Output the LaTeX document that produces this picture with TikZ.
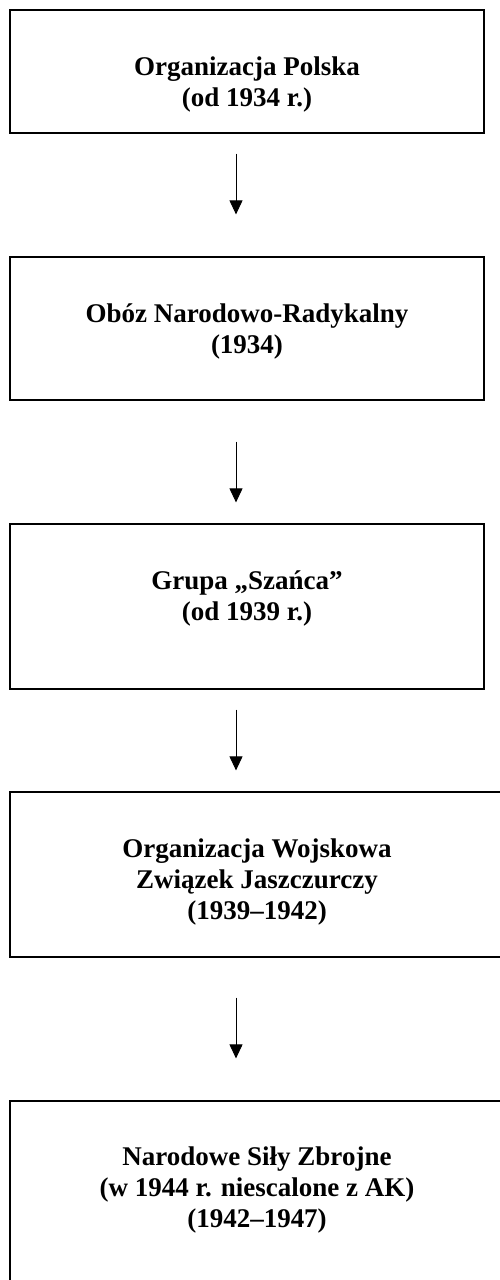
\documentclass[tikz,border=0pt]{standalone}
\usepackage{fontspec}
\setmainfont{Liberation Serif}
\usetikzlibrary{arrows.meta}

\begin{document}
\begin{tikzpicture}[x=1pt,y=1pt,
  box/.style={draw=black, line width=1.2pt, rectangle, inner sep=0pt, minimum width=474pt},
  wide/.style={box, minimum width=494pt},
  lbl/.style={inner sep=0pt, anchor=base, font=\fontsize{27}{31}\selectfont\bfseries},
  arr/.style={line width=0.9pt, -{Triangle[length=14pt,width=13pt]}}]
\useasboundingbox (0,0) rectangle (500,-1280);
\fill[white] (0,0) rectangle (500,-1280);
\node[box, minimum height=123pt] (op) at (247,-71.5) {};
\node[box, minimum height=143pt] (onr) at (247,-328.5) {};
\node[box, minimum height=165pt] (sz) at (247,-606.5) {};
\node[wide, minimum height=165pt] (ozj) at (257,-874.5) {};
\node[wide, minimum height=189pt] (nsz) at (257,-1195.5) {};
\node[lbl] (opt) at ([yshift=-66pt]op.north) {\begin{tabular}[t]{c}Organizacja Polska\\(od 1934 r.)\end{tabular}};
\node[lbl] (onrt) at ([yshift=-66pt]onr.north) {\begin{tabular}[t]{c}Obóz Narodowo-Radykalny\\(1934)\end{tabular}};
\node[lbl] (szt) at ([yshift=-66pt]sz.north) {\begin{tabular}[t]{c}Grupa „Szańca”\\(od 1939 r.)\end{tabular}};
\node[lbl] (ozjt) at ([yshift=-66pt]ozj.north) {\begin{tabular}[t]{c}Organizacja Wojskowa\\Związek Jaszczurczy\\(1939–1942)\end{tabular}};
\node[lbl] (nszt) at ([yshift=-65pt]nsz.north) {\begin{tabular}[t]{c}Narodowe Siły Zbrojne\\(w 1944 r. niescalone z AK)\\(1942–1947)\end{tabular}};
\coordinate (a1s) at ([xshift=-11pt,yshift=-20pt]op.south);
\coordinate (a1e) at ([xshift=-11pt,yshift=42pt]onr.north);
\coordinate (a2s) at ([xshift=-11pt,yshift=-41pt]onr.south);
\coordinate (a2e) at ([xshift=-11pt,yshift=21pt]sz.north);
\coordinate (a3s) at ([xshift=-11pt,yshift=-20pt]sz.south);
\coordinate (a3e) at ([xshift=-21pt,yshift=21pt]ozj.north);
\coordinate (a4s) at ([xshift=-21pt,yshift=-40pt]ozj.south);
\coordinate (a4e) at ([xshift=-21pt,yshift=42pt]nsz.north);
\draw[arr] (a1s) -- (a1e);
\draw[arr] (a2s) -- (a2e);
\draw[arr] (a3s) -- (a3e);
\draw[arr] (a4s) -- (a4e);
\end{tikzpicture}
\end{document}
